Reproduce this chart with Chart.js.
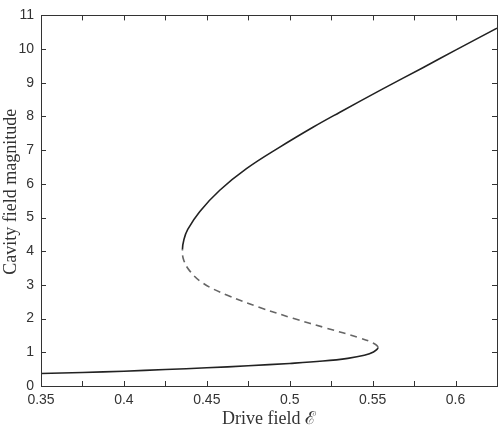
<!DOCTYPE html>
<html>
<head>
<meta charset="utf-8">
<script src="https://cdn.jsdelivr.net/npm/chart.js@4"></script>
<style>
  html, body { margin: 0; padding: 0; background: #fff; }
  #wrap { width: 504px; height: 430px; }
</style>
</head>
<body>
<div id="wrap"><canvas id="chart" width="504" height="430"></canvas></div>
<script>
// stable lower branch, ends at the right turning point
const lowerX = [0.35, 0.375, 0.40, 0.425, 0.45, 0.475, 0.50, 0.52, 0.535, 0.545, 0.5505, 0.5532];
const lowerY = [0.37, 0.40, 0.44, 0.49, 0.54, 0.60, 0.67, 0.74, 0.82, 0.91, 1.01, 1.14];
// unstable middle branch (dashed), from right turning point to left turning point
const middleX = [0.5505, 0.542, 0.522, 0.502, 0.482, 0.462, 0.4478, 0.4398, 0.4360, 0.4353];
const middleY = [1.27, 1.43, 1.72, 2.01, 2.33, 2.70, 3.05, 3.41, 3.75, 4.05];
// stable upper branch
const upperX = [0.4362, 0.4385, 0.4458, 0.4578, 0.4739, 0.494, 0.514, 0.53, 0.555, 0.58, 0.60, 0.625];
const upperY = [4.35, 4.65, 5.18, 5.81, 6.45, 7.09, 7.68, 8.12, 8.79, 9.44, 9.97, 10.62];

const xTicks = [0.35, 0.4, 0.45, 0.5, 0.55, 0.6];
const xMinorTicks = [0.35, 0.375, 0.4, 0.425, 0.45, 0.475, 0.5, 0.525, 0.55, 0.575, 0.6];
const yTicks = [0, 1, 2, 3, 4, 5, 6, 7, 8, 9, 10, 11];

const toPts = (xs, ys) => xs.map((x, i) => ({ x: x, y: ys[i] }));
const points = [].concat(toPts(lowerX, lowerY), toPts(middleX, middleY), toPts(upperX, upperY));
const dashStart = lowerX.length - 1;
const dashEnd = dashStart + middleX.length;
const isDashed = ctx => ctx.p0DataIndex >= dashStart && ctx.p0DataIndex < dashEnd;

const axisColor = '#333';

// inward ticks on all four sides plus the frame
const boxTicks = {
  id: 'boxTicks',
  afterDraw(chart) {
    const c = chart.ctx, a = chart.chartArea;
    const sx = chart.scales.x, sy = chart.scales.y;
    const len = 5;
    c.save();
    c.strokeStyle = axisColor;
    c.lineWidth = 1;
    c.beginPath();
    xMinorTicks.forEach(v => {
      const px = Math.round(sx.getPixelForValue(v)) + 0.5;
      c.moveTo(px, a.bottom); c.lineTo(px, a.bottom - len);
      c.moveTo(px, a.top); c.lineTo(px, a.top + len);
    });
    yTicks.forEach(v => {
      const py = Math.round(sy.getPixelForValue(v)) + 0.5;
      c.moveTo(a.left, py); c.lineTo(a.left + len, py);
      c.moveTo(a.right, py); c.lineTo(a.right - len, py);
    });
    c.stroke();
    c.strokeRect(Math.round(a.left) + 0.5, Math.round(a.top) + 0.5,
      Math.round(a.right - a.left), Math.round(a.bottom - a.top));
    c.restore();
  }
};

new Chart(document.getElementById('chart'), {
  type: 'scatter',
  data: {
    datasets: [{
      data: points,
      showLine: true,
      tension: 0.4,
      pointRadius: 0,
      borderWidth: 1.6,
      borderColor: '#222',
      segment: {
        borderColor: ctx => isDashed(ctx) ? '#666' : '#222',
        borderDash: ctx => isDashed(ctx) ? [7, 5] : undefined
      }
    }]
  },
  options: {
    responsive: false,
    animation: false,
    layout: { padding: { top: 12, right: 7, left: 0, bottom: 0 } },
    plugins: { legend: { display: false }, tooltip: { enabled: false } },
    scales: {
      x: {
        type: 'linear',
        min: 0.35,
        max: 0.625,
        grid: { display: false, drawTicks: false },
        border: { display: false },
        afterBuildTicks: s => { s.ticks = xTicks.map(v => ({ value: v })); },
        afterFit: s => { s.height = 44; },
        ticks: {
          padding: 6,
          color: '#333',
          font: { family: 'Liberation Sans', size: 14 },
          callback: v => String(v)
        },
        title: {
          display: true,
          text: 'Drive field ℰ',
          color: '#333',
          font: { family: 'Liberation Serif', size: 18 },
          padding: { top: 0, bottom: 0 }
        }
      },
      y: {
        min: 0,
        max: 11,
        grid: { display: false, drawTicks: false },
        border: { display: false },
        afterBuildTicks: s => { s.ticks = yTicks.map(v => ({ value: v })); },
        afterFit: s => { s.width = 41; },
        ticks: {
          padding: 7,
          color: '#333',
          font: { family: 'Liberation Sans', size: 14 }
        },
        title: {
          display: true,
          text: '\u2002\u2002Cavity field magnitude',
          color: '#333',
          font: { family: 'Liberation Serif', size: 18 },
          padding: { top: 0, bottom: 0 }
        }
      }
    }
  },
  plugins: [boxTicks]
});
</script>
</body>
</html>
